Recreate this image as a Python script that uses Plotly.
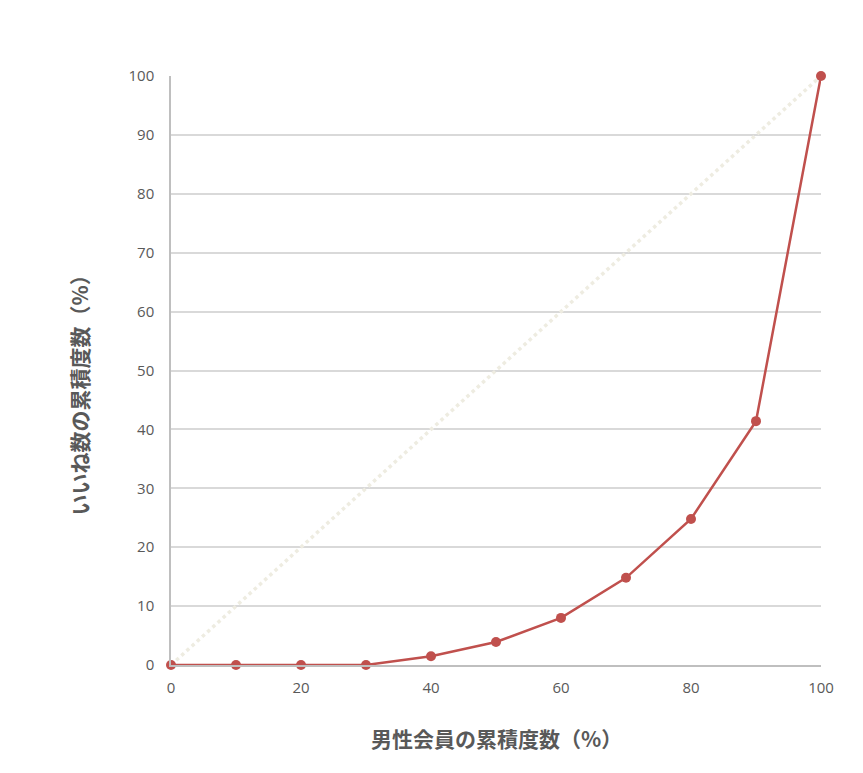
import plotly.graph_objects as go

x_pct = [0, 10, 20, 30, 40, 50, 60, 70, 80, 90, 100]
likes_pct = [0, 0, 0, 0, 1.5, 3.9, 8.0, 14.8, 24.8, 41.4, 100]
equal_x = [0, 100]
equal_y = [0, 100]

fig = go.Figure()
fig.add_trace(go.Scatter(x=equal_x, y=equal_y, mode='lines', cliponaxis=False,
                         line=dict(color='#EEECE1', width=3.5, dash='dot'), showlegend=False))
fig.add_trace(go.Scatter(x=x_pct, y=likes_pct, mode='lines+markers', cliponaxis=False,
                         line=dict(color='#C0504D', width=2.5),
                         marker=dict(color='#C0504D', size=10), showlegend=False))

tick_font = dict(family='Open Sans, Noto Sans CJK JP', size=15, color='#595959')
title_font = dict(family='Noto Sans CJK JP', size=21, color='#595959')

# page body adds 8px margin, so the figure is sized to the window minus that
fig.update_layout(
    width=855, height=765,
    margin=dict(l=163, r=42, t=68, b=108),
    plot_bgcolor='white', paper_bgcolor='white',
    xaxis=dict(range=[0, 100], tickvals=[0, 20, 40, 60, 80, 100], showgrid=False,
               showline=True, linecolor='#BFBFBF', linewidth=1.5, zeroline=False,
               tickfont=tick_font, ticks='', ticklabelstandoff=8, automargin=False),
    yaxis=dict(range=[0, 100], dtick=10, showgrid=True, gridcolor='#D9D9D9', gridwidth=1.5,
               showline=True, linecolor='#BFBFBF', linewidth=1.5, zeroline=False,
               tickfont=tick_font, ticks='', ticklabelstandoff=12, automargin=False),
)

# axis titles as annotations so they sit where the original puts them
fig.add_annotation(text='<b>男性会員の累積度数（%）</b>', font=title_font, showarrow=False,
                   xref='paper', yref='paper', x=0.5, y=0, yshift=-73,
                   xanchor='center', yanchor='middle')
fig.add_annotation(text='<b>いいね数の累積度数（%）</b>', font=title_font, showarrow=False,
                   textangle=-90, xref='paper', yref='paper', x=0, y=0.5, xshift=-93, yshift=-20,
                   xanchor='center', yanchor='middle')

fig.write_html("out.html")
